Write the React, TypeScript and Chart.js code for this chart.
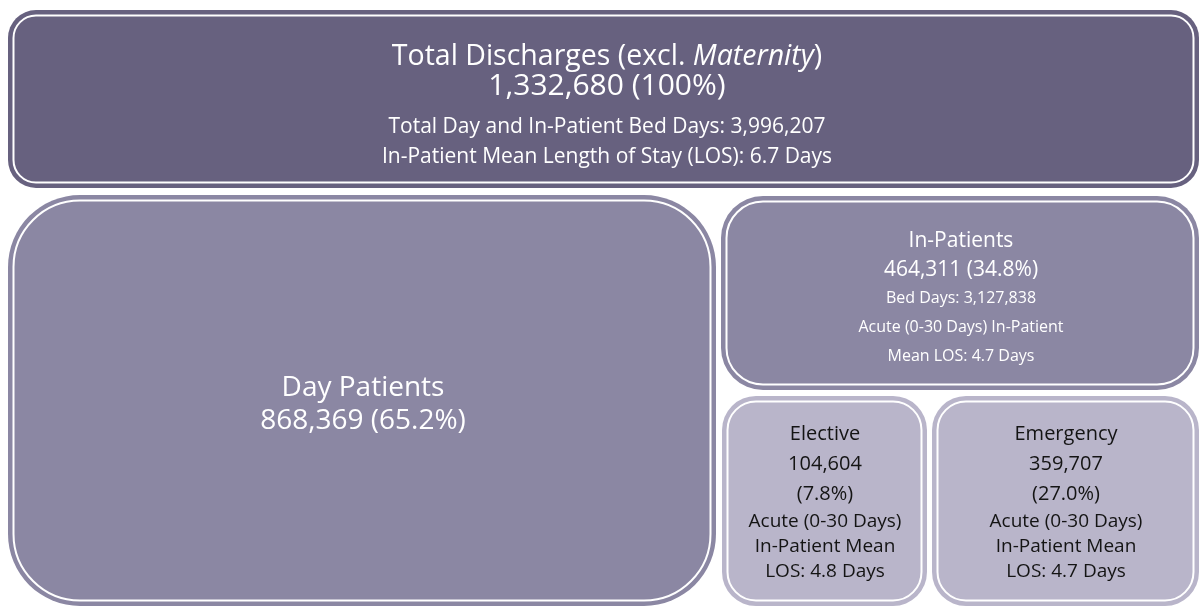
import React, { useEffect, useRef } from "react";
import { Chart, registerables } from "chart.js";

Chart.register(...registerables);

// ---- data ----
const categories = ["Total Discharges", "Day Patients", "In-Patients", "Elective", "Emergency"];
const discharges = [1332680, 868369, 464311, 104604, 359707];
const sharePct = [100, 65.2, 34.8, 7.8, 27.0];
const totalBedDays = 3996207;
const inPatientBedDays = 3127838;
const meanLOS = [6.7, null, 4.7, 4.8, 4.7];

// ---- layout / style (scale units == pixels on a 1200x608 plane) ----
const boxLayout = [
  { x0: 8, x1: 1199, y0: 10, y1: 188, r: 28, fill: "#67617F", text: "#FFFFFF", cx: 607 },
  { x0: 8, x1: 716, y0: 195, y1: 606, r: 72, fill: "#8B87A3", text: "#FFFFFF", cx: 363 },
  { x0: 721, x1: 1199, y0: 196, y1: 390, r: 42, fill: "#8B87A3", text: "#FFFFFF", cx: 961 },
  { x0: 722, x1: 927, y0: 396, y1: 606, r: 34, fill: "#B9B5CA", text: "#141414", cx: 825 },
  { x0: 932, x1: 1199, y0: 396, y1: 606, r: 34, fill: "#B9B5CA", text: "#141414", cx: 1066 },
];

// per box: [fontSize, baseline] for each text line
const lineStyles = [
  [[28.5, 65], [30, 95], [21, 133], [21, 163]],
  [[28, 396], [28, 429]],
  [[21, 247], [21, 276], [16, 303], [16, 332], [16, 361]],
  [[20, 440], [20, 470], [20, 500], [19, 527], [19, 552], [19, 577]],
  [[20, 440], [20, 470], [20, 500], [19, 527], [19, 552], [19, 577]],
];

type Seg = { t: string; italic?: boolean };

const fmt = (n: number) => n.toLocaleString("en-US");
const pct = (p: number) => (p === 100 ? "100%" : p.toFixed(1) + "%");

function buildLines(): Seg[][][] {
  return [
    [
      [{ t: categories[0] + " (excl. " }, { t: "Maternity", italic: true }, { t: ")" }],
      [{ t: `${fmt(discharges[0])} (${pct(sharePct[0])})` }],
      [{ t: `Total Day and In-Patient Bed Days: ${fmt(totalBedDays)}` }],
      [{ t: `In-Patient Mean Length of Stay (LOS): ${meanLOS[0]} Days` }],
    ],
    [
      [{ t: categories[1] }],
      [{ t: `${fmt(discharges[1])} (${pct(sharePct[1])})` }],
    ],
    [
      [{ t: categories[2] }],
      [{ t: `${fmt(discharges[2])} (${pct(sharePct[2])})` }],
      [{ t: `Bed Days: ${fmt(inPatientBedDays)}` }],
      [{ t: "Acute (0-30 Days) In-Patient" }],
      [{ t: `Mean LOS: ${meanLOS[2]} Days` }],
    ],
    [
      [{ t: categories[3] }],
      [{ t: fmt(discharges[3]) }],
      [{ t: `(${pct(sharePct[3])})` }],
      [{ t: "Acute (0-30 Days)" }],
      [{ t: "In-Patient Mean" }],
      [{ t: `LOS: ${meanLOS[3]} Days` }],
    ],
    [
      [{ t: categories[4] }],
      [{ t: fmt(discharges[4]) }],
      [{ t: `(${pct(sharePct[4])})` }],
      [{ t: "Acute (0-30 Days)" }],
      [{ t: "In-Patient Mean" }],
      [{ t: `LOS: ${meanLOS[4]} Days` }],
    ],
  ];
}

const FONT = '"Open Sans", "DejaVu Sans", sans-serif';

const boxPlugin = {
  id: "boxes",
  beforeDatasetsDraw(chart: any) {
    const { ctx, scales } = chart;
    const xs = scales.x;
    const ys = scales.y;
    const lines = buildLines();
    ctx.save();
    boxLayout.forEach((b, i) => {
      const px0 = xs.getPixelForValue(b.x0);
      const px1 = xs.getPixelForValue(b.x1);
      const py0 = ys.getPixelForValue(b.y0);
      const py1 = ys.getPixelForValue(b.y1);
      const w = px1 - px0;
      const h = py1 - py0;
      ctx.beginPath();
      ctx.roundRect(px0, py0, w, h, b.r);
      ctx.fillStyle = b.fill;
      ctx.fill();
      const inset = 5.5;
      ctx.beginPath();
      ctx.roundRect(px0 + inset, py0 + inset, w - 2 * inset, h - 2 * inset, Math.max(b.r - inset, 2));
      ctx.strokeStyle = "#FFFFFF";
      ctx.lineWidth = 2;
      ctx.stroke();

      // text
      ctx.fillStyle = b.text;
      ctx.textBaseline = "alphabetic";
      ctx.textAlign = "left";
      const cx = xs.getPixelForValue(b.cx);
      lines[i].forEach((segs, li) => {
        const [size, base] = lineStyles[i][li];
        const by = ys.getPixelForValue(base);
        let total = 0;
        const widths = segs.map((s) => {
          ctx.font = `${s.italic ? "italic " : ""}${size}px ${FONT}`;
          const m = ctx.measureText(s.t).width;
          total += m;
          return m;
        });
        let x = cx - total / 2;
        segs.forEach((s, si) => {
          ctx.font = `${s.italic ? "italic " : ""}${size}px ${FONT}`;
          ctx.fillText(s.t, x, by);
          x += widths[si];
        });
      });
    });
    ctx.restore();
  },
};

export default function App() {
  const ref = useRef<HTMLCanvasElement | null>(null);
  useEffect(() => {
    if (!ref.current) return;
    const chart = new Chart(ref.current, {
      type: "scatter",
      data: {
        datasets: [
          {
            label: "Discharges",
            data: boxLayout.map((b, i) => ({ x: (b.x0 + b.x1) / 2, y: (b.y0 + b.y1) / 2, v: discharges[i] })) as any,
            pointRadius: 0,
            pointHoverRadius: 0,
          },
        ],
      },
      options: {
        animation: false,
        responsive: true,
        maintainAspectRatio: false,
        layout: { padding: 0 },
        plugins: { legend: { display: false }, tooltip: { enabled: false } },
        scales: {
          x: { type: "linear", min: 0, max: 1200, display: false },
          y: { type: "linear", min: 0, max: 608, reverse: true, display: false },
        },
      },
      plugins: [boxPlugin],
    });
    return () => chart.destroy();
  }, []);
  return (
    <div style={{ position: "fixed", left: 0, top: 0, width: 1200, height: 608, background: "#FFFFFF" }}>
      <canvas ref={ref} />
    </div>
  );
}
